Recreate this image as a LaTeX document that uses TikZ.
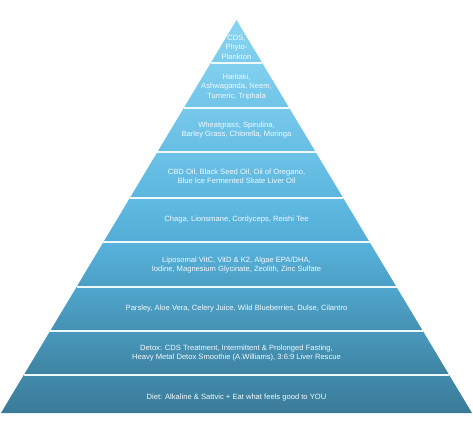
\documentclass[tikz,border=0pt]{standalone}
\usepackage{fontspec}
\setmainfont{Liberation Sans}
\usetikzlibrary{calc}
\definecolor{pyrtop}{HTML}{88D4F2}
\definecolor{pyrmid}{HTML}{55B2DC}
\definecolor{pyrbot}{HTML}{3A7A97}
\definecolor{txtc}{HTML}{F4FAFD}
\newcommand{\pyrcol}[2]{%
  \pgfmathsetmacro{\tq}{max(0,min(1,#2))}%
  \ifdim\tq pt<0.55pt
    \pgfmathsetmacro{\pq}{100*\tq/0.55}%
    \colorlet{#1}{pyrmid!\pq!pyrtop}%
  \else
    \pgfmathsetmacro{\pq}{100*(\tq-0.55)/0.45}%
    \colorlet{#1}{pyrbot!\pq!pyrmid}%
  \fi}
\begin{document}
\begin{tikzpicture}[x=1pt,y=-1pt,
  label/.style={text=txtc,font=\fontsize{7.6}{9.4}\selectfont,align=center,inner sep=0pt},
  sep/.style={draw=white!85!pyrtop,line width=1.3pt}]
\useasboundingbox (0,0) rectangle (473,428);
\fill[white] (0,0) rectangle (473,428);
\coordinate (A) at (236.5,20);
\coordinate (BL) at (1,413);
\coordinate (BR) at (472,413);
\foreach \ya/\yb [count=\i] in {20/63,63/108,108/152,152/198,198/242,242/287,287/331,331/375,375/413}{
  \pgfmathsetmacro{\ta}{(\ya-20)/393}
  \pgfmathsetmacro{\tb}{(\yb-20)/393}
  \pyrcol{bandtop}{\ta-0.04}
  \pyrcol{bandbot}{\tb+0.03}
  \shade[top color=bandtop, bottom color=bandbot]
    ($(A)!\ta!(BL)$) -- ($(A)!\tb!(BL)$) -- ($(A)!\tb!(BR)$) -- ($(A)!\ta!(BR)$) -- cycle;
}
\foreach \y in {63,108,152,198,242,287,331,375}{
  \pgfmathsetmacro{\t}{(\y-20)/393}
  \draw[sep] ($(A)!\t!(BL)$) -- ($(A)!\t!(BR)$);
}
\node[label] (l1) at (236.5,47) {CDS,\\Phyto-\\Plankton};
\node[label] (l2) at (236.5,87) {Haritaki,\\Ashwaganda, Neem,\\Tumeric, Triphala};
\node[label] (l3) at (236.5,130) {Wheatgrass, Spirulina,\\Barley Grass, Chlorella, Moringa};
\node[label] (l4) at (236.5,176) {CBD Oil, Black Seed Oil, Oil of Oregano,\\Blue Ice Fermented Skate Liver Oil};
\node[label] (l5) at (236.5,220) {Chaga, Lionsmane, Cordyceps, Reishi Tee};
\node[label] (l6) at (236.5,265) {Liposomal VitC, VitD \& K2, Algae EPA/DHA,\\Iodine, Magnesium Glycinate, Zeolith, Zinc Sulfate};
\node[label] (l7) at (236.5,309) {Parsley, Aloe Vera, Celery Juice, Wild Blueberries, Dulse, Cilantro};
\node[label] (l8) at (236.5,353) {Detox: CDS Treatment, Intermittent \& Prolonged Fasting,\\Heavy Metal Detox Smoothie (A.Williams), 3:6:9 Liver Rescue};
\node[label] (l9) at (236.5,398) {Diet: Alkaline \& Sattvic + Eat what feels good to YOU};
\end{tikzpicture}
\end{document}
